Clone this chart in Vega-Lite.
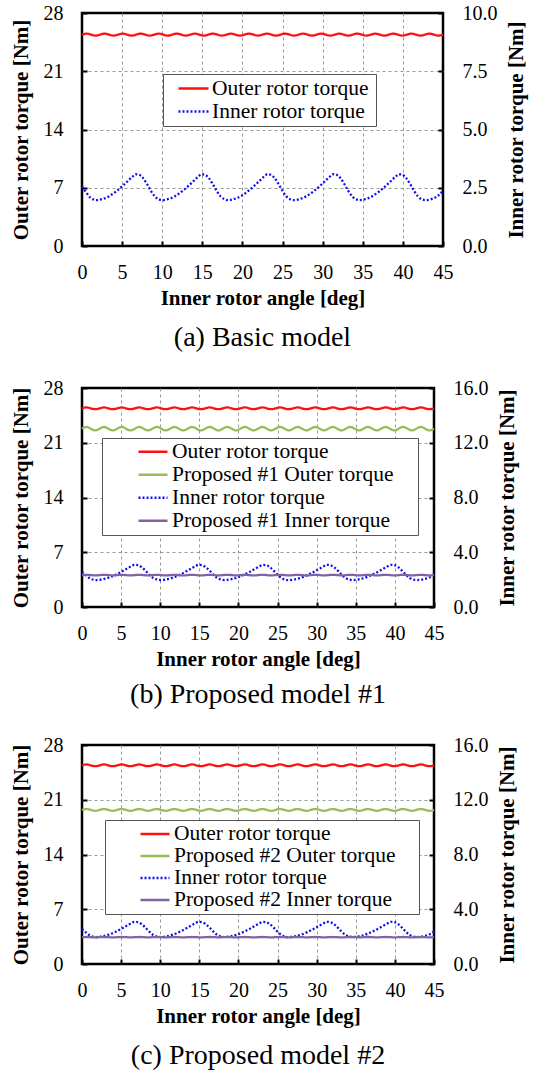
{
  "$schema": "https://vega.github.io/schema/vega-lite/v6.json",
  "background": "white",
  "padding": {"left": 8, "top": 1, "right": 5, "bottom": 5},
  "spacing": 22,
  "config": {
    "font": "Liberation Serif",
    "view": {"stroke": "black", "strokeWidth": 2.5},
    "axis": {
      "labelFont": "Liberation Serif", "labelFontSize": 20, "labelColor": "black",
      "titleFont": "Liberation Serif", "titleFontSize": 21, "titleFontWeight": "bold", "titleColor": "black",
      "tickColor": "black", "tickWidth": 2, "tickSize": -5, "domain": false,
      "labelFlush": false, "labelOverlap": false,
      "gridColor": "#999999", "gridDash": [3, 3], "gridWidth": 1
    },
    "legend": {
      "labelFont": "Liberation Serif", "labelFontSize": 21.5, "labelColor": "black", "labelLimit": 0,
      "symbolType": "stroke", "symbolStrokeWidth": 2.5,
      "strokeColor": "#555555", "fillColor": "white", "padding": 3, "rowPadding": 0,
      "titleOrient": "right", "titleFontSize": 21
    },
    "title": {"font": "Liberation Serif", "fontSize": 28, "fontWeight": "normal", "color": "black", "orient": "bottom", "anchor": "middle", "frame": "group"}
  },
  "datasets": {
    "w": [
      {"x":0,"o":25.4,"g1":22.8,"g2":19.7,"v1":2.33,"v2":1.96},
      {"x":0.375,"o":25.5,"g1":22.99,"g2":19.8,"v1":2.35,"v2":1.97},
      {"x":0.75,"o":25.5,"g1":22.99,"g2":19.8,"v1":2.35,"v2":1.97},
      {"x":1.125,"o":25.4,"g1":22.8,"g2":19.7,"v1":2.33,"v2":1.96},
      {"x":1.5,"o":25.3,"g1":22.61,"g2":19.6,"v1":2.31,"v2":1.95},
      {"x":1.875,"o":25.3,"g1":22.61,"g2":19.6,"v1":2.31,"v2":1.95},
      {"x":2.25,"o":25.4,"g1":22.8,"g2":19.7,"v1":2.33,"v2":1.96},
      {"x":2.625,"o":25.5,"g1":22.99,"g2":19.8,"v1":2.35,"v2":1.97},
      {"x":3,"o":25.5,"g1":22.99,"g2":19.8,"v1":2.35,"v2":1.97},
      {"x":3.375,"o":25.4,"g1":22.8,"g2":19.7,"v1":2.33,"v2":1.96},
      {"x":3.75,"o":25.3,"g1":22.61,"g2":19.6,"v1":2.31,"v2":1.95},
      {"x":4.125,"o":25.3,"g1":22.61,"g2":19.6,"v1":2.31,"v2":1.95},
      {"x":4.5,"o":25.4,"g1":22.8,"g2":19.7,"v1":2.33,"v2":1.96},
      {"x":4.875,"o":25.5,"g1":22.99,"g2":19.8,"v1":2.35,"v2":1.97},
      {"x":5.25,"o":25.5,"g1":22.99,"g2":19.8,"v1":2.35,"v2":1.97},
      {"x":5.625,"o":25.4,"g1":22.8,"g2":19.7,"v1":2.33,"v2":1.96},
      {"x":6,"o":25.3,"g1":22.61,"g2":19.6,"v1":2.31,"v2":1.95},
      {"x":6.375,"o":25.3,"g1":22.61,"g2":19.6,"v1":2.31,"v2":1.95},
      {"x":6.75,"o":25.4,"g1":22.8,"g2":19.7,"v1":2.33,"v2":1.96},
      {"x":7.125,"o":25.5,"g1":22.99,"g2":19.8,"v1":2.35,"v2":1.97},
      {"x":7.5,"o":25.5,"g1":22.99,"g2":19.8,"v1":2.35,"v2":1.97},
      {"x":7.875,"o":25.4,"g1":22.8,"g2":19.7,"v1":2.33,"v2":1.96},
      {"x":8.25,"o":25.3,"g1":22.61,"g2":19.6,"v1":2.31,"v2":1.95},
      {"x":8.625,"o":25.3,"g1":22.61,"g2":19.6,"v1":2.31,"v2":1.95},
      {"x":9,"o":25.4,"g1":22.8,"g2":19.7,"v1":2.33,"v2":1.96},
      {"x":9.375,"o":25.5,"g1":22.99,"g2":19.8,"v1":2.35,"v2":1.97},
      {"x":9.75,"o":25.5,"g1":22.99,"g2":19.8,"v1":2.35,"v2":1.97},
      {"x":10.125,"o":25.4,"g1":22.8,"g2":19.7,"v1":2.33,"v2":1.96},
      {"x":10.5,"o":25.3,"g1":22.61,"g2":19.6,"v1":2.31,"v2":1.95},
      {"x":10.875,"o":25.3,"g1":22.61,"g2":19.6,"v1":2.31,"v2":1.95},
      {"x":11.25,"o":25.4,"g1":22.8,"g2":19.7,"v1":2.33,"v2":1.96},
      {"x":11.625,"o":25.5,"g1":22.99,"g2":19.8,"v1":2.35,"v2":1.97},
      {"x":12,"o":25.5,"g1":22.99,"g2":19.8,"v1":2.35,"v2":1.97},
      {"x":12.375,"o":25.4,"g1":22.8,"g2":19.7,"v1":2.33,"v2":1.96},
      {"x":12.75,"o":25.3,"g1":22.61,"g2":19.6,"v1":2.31,"v2":1.95},
      {"x":13.125,"o":25.3,"g1":22.61,"g2":19.6,"v1":2.31,"v2":1.95},
      {"x":13.5,"o":25.4,"g1":22.8,"g2":19.7,"v1":2.33,"v2":1.96},
      {"x":13.875,"o":25.5,"g1":22.99,"g2":19.8,"v1":2.35,"v2":1.97},
      {"x":14.25,"o":25.5,"g1":22.99,"g2":19.8,"v1":2.35,"v2":1.97},
      {"x":14.625,"o":25.4,"g1":22.8,"g2":19.7,"v1":2.33,"v2":1.96},
      {"x":15,"o":25.3,"g1":22.61,"g2":19.6,"v1":2.31,"v2":1.95},
      {"x":15.375,"o":25.3,"g1":22.61,"g2":19.6,"v1":2.31,"v2":1.95},
      {"x":15.75,"o":25.4,"g1":22.8,"g2":19.7,"v1":2.33,"v2":1.96},
      {"x":16.125,"o":25.5,"g1":22.99,"g2":19.8,"v1":2.35,"v2":1.97},
      {"x":16.5,"o":25.5,"g1":22.99,"g2":19.8,"v1":2.35,"v2":1.97},
      {"x":16.875,"o":25.4,"g1":22.8,"g2":19.7,"v1":2.33,"v2":1.96},
      {"x":17.25,"o":25.3,"g1":22.61,"g2":19.6,"v1":2.31,"v2":1.95},
      {"x":17.625,"o":25.3,"g1":22.61,"g2":19.6,"v1":2.31,"v2":1.95},
      {"x":18,"o":25.4,"g1":22.8,"g2":19.7,"v1":2.33,"v2":1.96},
      {"x":18.375,"o":25.5,"g1":22.99,"g2":19.8,"v1":2.35,"v2":1.97},
      {"x":18.75,"o":25.5,"g1":22.99,"g2":19.8,"v1":2.35,"v2":1.97},
      {"x":19.125,"o":25.4,"g1":22.8,"g2":19.7,"v1":2.33,"v2":1.96},
      {"x":19.5,"o":25.3,"g1":22.61,"g2":19.6,"v1":2.31,"v2":1.95},
      {"x":19.875,"o":25.3,"g1":22.61,"g2":19.6,"v1":2.31,"v2":1.95},
      {"x":20.25,"o":25.4,"g1":22.8,"g2":19.7,"v1":2.33,"v2":1.96},
      {"x":20.625,"o":25.5,"g1":22.99,"g2":19.8,"v1":2.35,"v2":1.97},
      {"x":21,"o":25.5,"g1":22.99,"g2":19.8,"v1":2.35,"v2":1.97},
      {"x":21.375,"o":25.4,"g1":22.8,"g2":19.7,"v1":2.33,"v2":1.96},
      {"x":21.75,"o":25.3,"g1":22.61,"g2":19.6,"v1":2.31,"v2":1.95},
      {"x":22.125,"o":25.3,"g1":22.61,"g2":19.6,"v1":2.31,"v2":1.95},
      {"x":22.5,"o":25.4,"g1":22.8,"g2":19.7,"v1":2.33,"v2":1.96},
      {"x":22.875,"o":25.5,"g1":22.99,"g2":19.8,"v1":2.35,"v2":1.97},
      {"x":23.25,"o":25.5,"g1":22.99,"g2":19.8,"v1":2.35,"v2":1.97},
      {"x":23.625,"o":25.4,"g1":22.8,"g2":19.7,"v1":2.33,"v2":1.96},
      {"x":24,"o":25.3,"g1":22.61,"g2":19.6,"v1":2.31,"v2":1.95},
      {"x":24.375,"o":25.3,"g1":22.61,"g2":19.6,"v1":2.31,"v2":1.95},
      {"x":24.75,"o":25.4,"g1":22.8,"g2":19.7,"v1":2.33,"v2":1.96},
      {"x":25.125,"o":25.5,"g1":22.99,"g2":19.8,"v1":2.35,"v2":1.97},
      {"x":25.5,"o":25.5,"g1":22.99,"g2":19.8,"v1":2.35,"v2":1.97},
      {"x":25.875,"o":25.4,"g1":22.8,"g2":19.7,"v1":2.33,"v2":1.96},
      {"x":26.25,"o":25.3,"g1":22.61,"g2":19.6,"v1":2.31,"v2":1.95},
      {"x":26.625,"o":25.3,"g1":22.61,"g2":19.6,"v1":2.31,"v2":1.95},
      {"x":27,"o":25.4,"g1":22.8,"g2":19.7,"v1":2.33,"v2":1.96},
      {"x":27.375,"o":25.5,"g1":22.99,"g2":19.8,"v1":2.35,"v2":1.97},
      {"x":27.75,"o":25.5,"g1":22.99,"g2":19.8,"v1":2.35,"v2":1.97},
      {"x":28.125,"o":25.4,"g1":22.8,"g2":19.7,"v1":2.33,"v2":1.96},
      {"x":28.5,"o":25.3,"g1":22.61,"g2":19.6,"v1":2.31,"v2":1.95},
      {"x":28.875,"o":25.3,"g1":22.61,"g2":19.6,"v1":2.31,"v2":1.95},
      {"x":29.25,"o":25.4,"g1":22.8,"g2":19.7,"v1":2.33,"v2":1.96},
      {"x":29.625,"o":25.5,"g1":22.99,"g2":19.8,"v1":2.35,"v2":1.97},
      {"x":30,"o":25.5,"g1":22.99,"g2":19.8,"v1":2.35,"v2":1.97},
      {"x":30.375,"o":25.4,"g1":22.8,"g2":19.7,"v1":2.33,"v2":1.96},
      {"x":30.75,"o":25.3,"g1":22.61,"g2":19.6,"v1":2.31,"v2":1.95},
      {"x":31.125,"o":25.3,"g1":22.61,"g2":19.6,"v1":2.31,"v2":1.95},
      {"x":31.5,"o":25.4,"g1":22.8,"g2":19.7,"v1":2.33,"v2":1.96},
      {"x":31.875,"o":25.5,"g1":22.99,"g2":19.8,"v1":2.35,"v2":1.97},
      {"x":32.25,"o":25.5,"g1":22.99,"g2":19.8,"v1":2.35,"v2":1.97},
      {"x":32.625,"o":25.4,"g1":22.8,"g2":19.7,"v1":2.33,"v2":1.96},
      {"x":33,"o":25.3,"g1":22.61,"g2":19.6,"v1":2.31,"v2":1.95},
      {"x":33.375,"o":25.3,"g1":22.61,"g2":19.6,"v1":2.31,"v2":1.95},
      {"x":33.75,"o":25.4,"g1":22.8,"g2":19.7,"v1":2.33,"v2":1.96},
      {"x":34.125,"o":25.5,"g1":22.99,"g2":19.8,"v1":2.35,"v2":1.97},
      {"x":34.5,"o":25.5,"g1":22.99,"g2":19.8,"v1":2.35,"v2":1.97},
      {"x":34.875,"o":25.4,"g1":22.8,"g2":19.7,"v1":2.33,"v2":1.96},
      {"x":35.25,"o":25.3,"g1":22.61,"g2":19.6,"v1":2.31,"v2":1.95},
      {"x":35.625,"o":25.3,"g1":22.61,"g2":19.6,"v1":2.31,"v2":1.95},
      {"x":36,"o":25.4,"g1":22.8,"g2":19.7,"v1":2.33,"v2":1.96},
      {"x":36.375,"o":25.5,"g1":22.99,"g2":19.8,"v1":2.35,"v2":1.97},
      {"x":36.75,"o":25.5,"g1":22.99,"g2":19.8,"v1":2.35,"v2":1.97},
      {"x":37.125,"o":25.4,"g1":22.8,"g2":19.7,"v1":2.33,"v2":1.96},
      {"x":37.5,"o":25.3,"g1":22.61,"g2":19.6,"v1":2.31,"v2":1.95},
      {"x":37.875,"o":25.3,"g1":22.61,"g2":19.6,"v1":2.31,"v2":1.95},
      {"x":38.25,"o":25.4,"g1":22.8,"g2":19.7,"v1":2.33,"v2":1.96},
      {"x":38.625,"o":25.5,"g1":22.99,"g2":19.8,"v1":2.35,"v2":1.97},
      {"x":39,"o":25.5,"g1":22.99,"g2":19.8,"v1":2.35,"v2":1.97},
      {"x":39.375,"o":25.4,"g1":22.8,"g2":19.7,"v1":2.33,"v2":1.96},
      {"x":39.75,"o":25.3,"g1":22.61,"g2":19.6,"v1":2.31,"v2":1.95},
      {"x":40.125,"o":25.3,"g1":22.61,"g2":19.6,"v1":2.31,"v2":1.95},
      {"x":40.5,"o":25.4,"g1":22.8,"g2":19.7,"v1":2.33,"v2":1.96},
      {"x":40.875,"o":25.5,"g1":22.99,"g2":19.8,"v1":2.35,"v2":1.97},
      {"x":41.25,"o":25.5,"g1":22.99,"g2":19.8,"v1":2.35,"v2":1.97},
      {"x":41.625,"o":25.4,"g1":22.8,"g2":19.7,"v1":2.33,"v2":1.96},
      {"x":42,"o":25.3,"g1":22.61,"g2":19.6,"v1":2.31,"v2":1.95},
      {"x":42.375,"o":25.3,"g1":22.61,"g2":19.6,"v1":2.31,"v2":1.95},
      {"x":42.75,"o":25.4,"g1":22.8,"g2":19.7,"v1":2.33,"v2":1.96},
      {"x":43.125,"o":25.5,"g1":22.99,"g2":19.8,"v1":2.35,"v2":1.97},
      {"x":43.5,"o":25.5,"g1":22.99,"g2":19.8,"v1":2.35,"v2":1.97},
      {"x":43.875,"o":25.4,"g1":22.8,"g2":19.7,"v1":2.33,"v2":1.96},
      {"x":44.25,"o":25.3,"g1":22.61,"g2":19.6,"v1":2.31,"v2":1.95},
      {"x":44.625,"o":25.3,"g1":22.61,"g2":19.6,"v1":2.31,"v2":1.95},
      {"x":45,"o":25.4,"g1":22.8,"g2":19.7,"v1":2.33,"v2":1.96}
    ],
    "blue": [
      {"x":0,"y":2.55},{"x":0.5,"y":2.31},{"x":1.0,"y":2.09},{"x":1.5,"y":1.99},
      {"x":1.8,"y":1.97},{"x":2.6,"y":2.02},{"x":3.4,"y":2.14},{"x":4.2,"y":2.33},{"x":5.0,"y":2.56},{"x":5.8,"y":2.82},{"x":6.3,"y":2.98},{"x":6.7,"y":3.08},{"x":7.1,"y":3.06},{"x":7.6,"y":2.92},{"x":8.1,"y":2.66},{"x":8.6,"y":2.36},{"x":9.1,"y":2.12},{"x":9.6,"y":2.0},
      {"x":10.0,"y":1.97},{"x":10.8,"y":2.02},{"x":11.6,"y":2.14},{"x":12.4,"y":2.33},{"x":13.2,"y":2.56},{"x":14.0,"y":2.82},{"x":14.5,"y":2.98},{"x":14.9,"y":3.08},{"x":15.3,"y":3.06},{"x":15.8,"y":2.92},{"x":16.3,"y":2.66},{"x":16.8,"y":2.36},{"x":17.3,"y":2.12},{"x":17.8,"y":2.0},
      {"x":18.2,"y":1.97},{"x":19.0,"y":2.02},{"x":19.8,"y":2.14},{"x":20.6,"y":2.33},{"x":21.4,"y":2.56},{"x":22.2,"y":2.82},{"x":22.7,"y":2.98},{"x":23.1,"y":3.08},{"x":23.5,"y":3.06},{"x":24.0,"y":2.92},{"x":24.5,"y":2.66},{"x":25.0,"y":2.36},{"x":25.5,"y":2.12},{"x":26.0,"y":2.0},
      {"x":26.4,"y":1.97},{"x":27.2,"y":2.02},{"x":28.0,"y":2.14},{"x":28.8,"y":2.33},{"x":29.6,"y":2.56},{"x":30.4,"y":2.82},{"x":30.9,"y":2.98},{"x":31.3,"y":3.08},{"x":31.7,"y":3.06},{"x":32.2,"y":2.92},{"x":32.7,"y":2.66},{"x":33.2,"y":2.36},{"x":33.7,"y":2.12},{"x":34.2,"y":2.0},
      {"x":34.6,"y":1.97},{"x":35.4,"y":2.02},{"x":36.2,"y":2.14},{"x":37.0,"y":2.33},{"x":37.8,"y":2.56},{"x":38.6,"y":2.82},{"x":39.1,"y":2.98},{"x":39.5,"y":3.08},{"x":39.9,"y":3.06},{"x":40.4,"y":2.92},{"x":40.9,"y":2.66},{"x":41.4,"y":2.36},{"x":41.9,"y":2.12},{"x":42.4,"y":2.0},
      {"x":42.8,"y":1.97},{"x":43.6,"y":2.02},{"x":44.4,"y":2.16},{"x":45.0,"y":2.38}
    ]
  },
  "resolve": {
    "scale": {"color": "independent", "strokeDash": "independent"},
    "legend": {"color": "independent", "strokeDash": "independent"}
  },
  "vconcat": [
    {
      "width": 361, "height": 233,
      "title": {"text": "(a) Basic model", "offset": 16},
      "resolve": {"scale": {"y": "independent"}},
      "encoding": {
        "x": {"field": "x", "type": "quantitative", "scale": {"domain": [0, 45], "nice": false},
          "axis": {"values": [0,5,10,15,20,25,30,35,40,45], "title": "Inner rotor angle [deg]", "labelPadding": 21, "titlePadding": 5, "labelOverlap": false, "grid": true,
            "gridOpacity": {"condition": {"test": "datum.value == 0 || datum.value == 45", "value": 0}, "value": 1}}}
      },
      "layer": [
        {
          "data": {"name": "w"},
          "mark": {"type": "line", "interpolate": "catmull-rom", "strokeWidth": 2.3},
          "encoding": {
            "y": {"field": "o", "type": "quantitative", "scale": {"domain": [0, 28], "nice": false},
              "axis": {"orient": "left", "values": [0,7,14,21,28], "title": "Outer rotor torque [Nm]", "labelPadding": 24, "titlePadding": 12, "labelOverlap": false, "grid": true,
                "gridOpacity": {"condition": {"test": "datum.value == 0 || datum.value == 28", "value": 0}, "value": 1}}},
            "color": {"datum": "Outer rotor torque", "type": "nominal",
              "scale": {"domain": ["Outer rotor torque", "Inner rotor torque"], "range": ["#ff1010", "#1010ee"]},
              "legend": {"title": "\u00a0", "orient": "none", "legendX": 81, "legendY": 61, "symbolSize": 900, "symbolOffset": 11, "labelOffset": 2, "titlePadding": 5, "clipHeight": 23}},
            "strokeDash": {"datum": "Outer rotor torque", "type": "nominal",
              "scale": {"domain": ["Outer rotor torque", "Inner rotor torque"], "range": [[1, 0], [2, 2]]},
              "legend": {"title": "\u00a0", "orient": "none", "legendX": 81, "legendY": 61, "symbolSize": 900, "symbolOffset": 11, "labelOffset": 2, "titlePadding": 5, "clipHeight": 23}}
          }
        },
        {
          "data": {"name": "blue"},
          "mark": {"type": "line", "interpolate": "monotone", "strokeWidth": 2.3},
          "encoding": {
            "y": {"field": "y", "type": "quantitative", "scale": {"domain": [0, 10], "nice": false},
              "axis": {"orient": "right", "values": [0, 2.5, 5, 7.5, 10], "format": ".1f", "title": "Inner rotor torque [Nm]", "titleAngle": 270, "titleBaseline": "top", "labelPadding": 24, "titlePadding": 8, "labelOverlap": false, "grid": false}},
            "color": {"datum": "Inner rotor torque", "type": "nominal"},
            "strokeDash": {"datum": "Inner rotor torque", "type": "nominal"}
          }
        }
      ]
    },
    {
      "width": 352, "height": 219,
      "title": {"text": "(b) Proposed model #1", "offset": 12},
      "resolve": {"scale": {"y": "independent"}},
      "encoding": {
        "x": {"field": "x", "type": "quantitative", "scale": {"domain": [0, 45], "nice": false},
          "axis": {"values": [0,5,10,15,20,25,30,35,40,45], "title": "Inner rotor angle [deg]", "labelPadding": 21, "titlePadding": 5, "labelOverlap": false, "grid": true,
            "gridOpacity": {"condition": {"test": "datum.value == 0 || datum.value == 45", "value": 0}, "value": 1}}}
      },
      "layer": [
        {
          "data": {"name": "w"},
          "layer": [
            {
              "mark": {"type": "line", "interpolate": "catmull-rom", "strokeWidth": 2.3},
              "encoding": {
                "y": {"field": "o", "type": "quantitative", "scale": {"domain": [0, 28], "nice": false},
                  "axis": {"orient": "left", "values": [0,7,14,21,28], "title": "Outer rotor torque [Nm]", "labelPadding": 24, "titlePadding": 12, "labelOverlap": false, "grid": true,
                    "gridOpacity": {"condition": {"test": "datum.value == 0 || datum.value == 28", "value": 0}, "value": 1}}},
                "color": {"datum": "Outer rotor torque", "type": "nominal",
                  "scale": {"domain": ["Outer rotor torque", "Proposed #1 Outer torque", "Inner rotor torque", "Proposed #1 Inner torque"], "range": ["#ff1010", "#9bbb59", "#1010ee", "#8064a2"]},
                  "legend": {"title": "\u00a0", "orient": "none", "legendX": 20, "legendY": 50, "symbolSize": 841, "symbolOffset": 32, "labelOffset": 3, "titlePadding": 21, "clipHeight": 21.5}},
                "strokeDash": {"datum": "Outer rotor torque", "type": "nominal",
                  "scale": {"domain": ["Outer rotor torque", "Proposed #1 Outer torque", "Inner rotor torque", "Proposed #1 Inner torque"], "range": [[1, 0], [1, 0], [2, 2], [1, 0]]},
                  "legend": {"title": "\u00a0", "orient": "none", "legendX": 20, "legendY": 50, "symbolSize": 841, "symbolOffset": 32, "labelOffset": 3, "titlePadding": 21, "clipHeight": 21.5}}
              }
            },
            {
              "mark": {"type": "line", "interpolate": "catmull-rom", "strokeWidth": 2.3},
              "encoding": {
                "y": {"field": "g1", "type": "quantitative"},
                "color": {"datum": "Proposed #1 Outer torque", "type": "nominal"},
                "strokeDash": {"datum": "Proposed #1 Outer torque", "type": "nominal"}
              }
            }
          ]
        },
        {
          "layer": [
            {
              "data": {"name": "blue"},
              "mark": {"type": "line", "interpolate": "monotone", "strokeWidth": 2.3},
              "encoding": {
                "y": {"field": "y", "type": "quantitative", "scale": {"domain": [0, 16], "nice": false},
                  "axis": {"orient": "right", "values": [0, 4, 8, 12, 16], "format": ".1f", "title": "Inner rotor torque [Nm]", "titleAngle": 270, "titleBaseline": "top", "labelPadding": 24, "titlePadding": 8, "labelOverlap": false, "grid": false}},
                "color": {"datum": "Inner rotor torque", "type": "nominal"},
                "strokeDash": {"datum": "Inner rotor torque", "type": "nominal"}
              }
            },
            {
              "data": {"name": "w"},
              "mark": {"type": "line", "interpolate": "catmull-rom", "strokeWidth": 2.3},
              "encoding": {
                "y": {"field": "v1", "type": "quantitative"},
                "color": {"datum": "Proposed #1 Inner torque", "type": "nominal"},
                "strokeDash": {"datum": "Proposed #1 Inner torque", "type": "nominal"}
              }
            }
          ]
        }
      ]
    },
    {
      "width": 352, "height": 219,
      "title": {"text": "(c)  Proposed model #2", "offset": 16},
      "resolve": {"scale": {"y": "independent"}},
      "encoding": {
        "x": {"field": "x", "type": "quantitative", "scale": {"domain": [0, 45], "nice": false},
          "axis": {"values": [0,5,10,15,20,25,30,35,40,45], "title": "Inner rotor angle [deg]", "labelPadding": 21, "titlePadding": 5, "labelOverlap": false, "grid": true,
            "gridOpacity": {"condition": {"test": "datum.value == 0 || datum.value == 45", "value": 0}, "value": 1}}}
      },
      "layer": [
        {
          "data": {"name": "w"},
          "layer": [
            {
              "mark": {"type": "line", "interpolate": "catmull-rom", "strokeWidth": 2.3},
              "encoding": {
                "y": {"field": "o", "type": "quantitative", "scale": {"domain": [0, 28], "nice": false},
                  "axis": {"orient": "left", "values": [0,7,14,21,28], "title": "Outer rotor torque [Nm]", "labelPadding": 24, "titlePadding": 12, "labelOverlap": false, "grid": true,
                    "gridOpacity": {"condition": {"test": "datum.value == 0 || datum.value == 28", "value": 0}, "value": 1}}},
                "color": {"datum": "Outer rotor torque", "type": "nominal",
                  "scale": {"domain": ["Outer rotor torque", "Proposed #2 Outer torque", "Inner rotor torque", "Proposed #2 Inner torque"], "range": ["#ff1010", "#9bbb59", "#1010ee", "#8064a2"]},
                  "legend": {"title": "\u00a0", "orient": "none", "legendX": 23, "legendY": 75, "symbolSize": 841, "symbolOffset": 31, "labelOffset": 3, "titlePadding": 20, "clipHeight": 22}},
                "strokeDash": {"datum": "Outer rotor torque", "type": "nominal",
                  "scale": {"domain": ["Outer rotor torque", "Proposed #2 Outer torque", "Inner rotor torque", "Proposed #2 Inner torque"], "range": [[1, 0], [1, 0], [2, 2], [1, 0]]},
                  "legend": {"title": "\u00a0", "orient": "none", "legendX": 23, "legendY": 75, "symbolSize": 841, "symbolOffset": 31, "labelOffset": 3, "titlePadding": 20, "clipHeight": 22}}
              }
            },
            {
              "mark": {"type": "line", "interpolate": "catmull-rom", "strokeWidth": 2.3},
              "encoding": {
                "y": {"field": "g2", "type": "quantitative"},
                "color": {"datum": "Proposed #2 Outer torque", "type": "nominal"},
                "strokeDash": {"datum": "Proposed #2 Outer torque", "type": "nominal"}
              }
            }
          ]
        },
        {
          "layer": [
            {
              "data": {"name": "blue"},
              "mark": {"type": "line", "interpolate": "monotone", "strokeWidth": 2.3},
              "encoding": {
                "y": {"field": "y", "type": "quantitative", "scale": {"domain": [0, 16], "nice": false},
                  "axis": {"orient": "right", "values": [0, 4, 8, 12, 16], "format": ".1f", "title": "Inner rotor torque [Nm]", "titleAngle": 270, "titleBaseline": "top", "labelPadding": 24, "titlePadding": 8, "labelOverlap": false, "grid": false}},
                "color": {"datum": "Inner rotor torque", "type": "nominal"},
                "strokeDash": {"datum": "Inner rotor torque", "type": "nominal"}
              }
            },
            {
              "data": {"name": "w"},
              "mark": {"type": "line", "interpolate": "catmull-rom", "strokeWidth": 2.3},
              "encoding": {
                "y": {"field": "v2", "type": "quantitative"},
                "color": {"datum": "Proposed #2 Inner torque", "type": "nominal"},
                "strokeDash": {"datum": "Proposed #2 Inner torque", "type": "nominal"}
              }
            }
          ]
        }
      ]
    }
  ]
}
